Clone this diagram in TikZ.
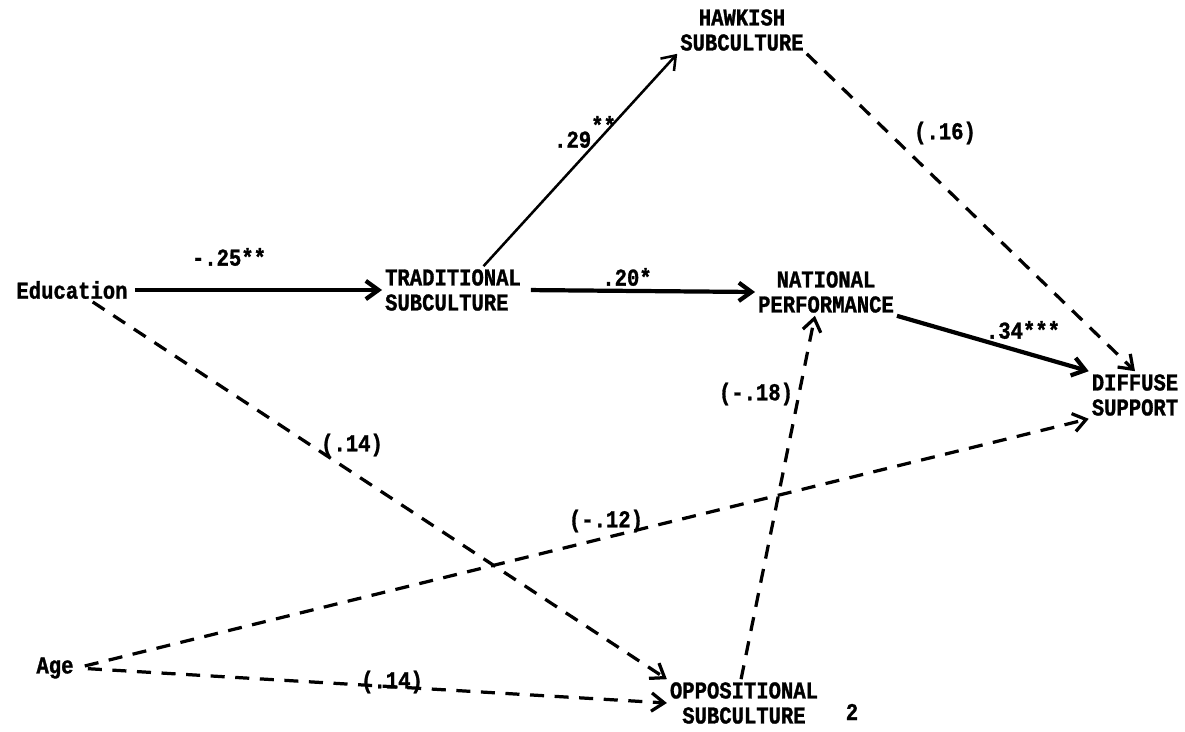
\documentclass[tikz,border=0pt]{standalone}
\usepackage{fontspec}
\newfontfamily\typer{Liberation Mono}[UprightFont=* Bold, FakeBold=1.2, FakeStretch=0.85]
\usetikzlibrary{arrows.meta}
\begin{document}
\begin{tikzpicture}[x=0.025cm, y=-0.025cm,
        every node/.style={font=\typer\fontsize{17.2}{17.8}\selectfont, inner sep=2pt},
        var/.style={align=left},
        coef/.style={inner sep=0pt},
        sig/.style={line width=3pt, -{Straight Barb[length=9pt,width=13pt]}},
        nsig/.style={line width=2.3pt, dash pattern=on 10pt off 7.5pt, -{Straight Barb[length=9pt,width=13pt]}}]
        \useasboundingbox[fill=white] (0, 0) rectangle (1185, 731);

        \node[var] (edu) at (72, 290) {Education};
        \node[var] (age) at (55, 668) {Age};
        \node[var] (trad) at (453, 290) {TRADITIONAL\\SUBCULTURE};
        \node[align=center] (hawk) at (742, 30) {HAWKISH\\SUBCULTURE};
        \node[align=center] (nat) at (826, 292) {NATIONAL\\PERFORMANCE};
        \node[var] (diff) at (1135, 395) {DIFFUSE\\SUPPORT};
        \node[align=center] (opp) at (744, 703) {OPPOSITIONAL\\SUBCULTURE};

        \draw[sig, shorten <=3pt] (edu.east) -- (trad.west);
        \draw[sig, shorten <=5pt] (trad.east) -- (nat.west);
        \draw[sig, line width=1.8pt] (trad.38) -- (hawk.south west);
        \draw[sig] (nat.south east) -- (diff.north west);

        \draw[nsig] (hawk.south east) -- (diff.north);
        \draw[nsig] (edu.-30) -- (opp.north west);
        \draw[nsig] (opp.97) -- (nat.-115);
        \draw[nsig, shorten <=6pt] (age.east) -- (diff.south west);
        \draw[nsig, shorten <=8pt] (age.east) -- (opp.west);

        \node[coef] (c25) at (229, 257) {-.25**};
        \node[coef] (c29) at (585, 132) {.29\raisebox{1.1ex}{**}};
        \node[coef] (c20) at (627, 277) {.20*};
        \node[coef] (c34) at (1023, 330) {.34***};
        \node[coef] (c16) at (945, 133) {(.16)};
        \node[coef] (c14a) at (352, 445) {(.14)};
        \node[coef] (c18) at (756, 394) {(-.18)};
        \node[coef] (c12) at (606, 521) {(-.12)};
        \node[coef] (c14b) at (392, 682) {(.14)};
        \node[coef] (pg) at (852, 712) {2};
\end{tikzpicture}
\end{document}
